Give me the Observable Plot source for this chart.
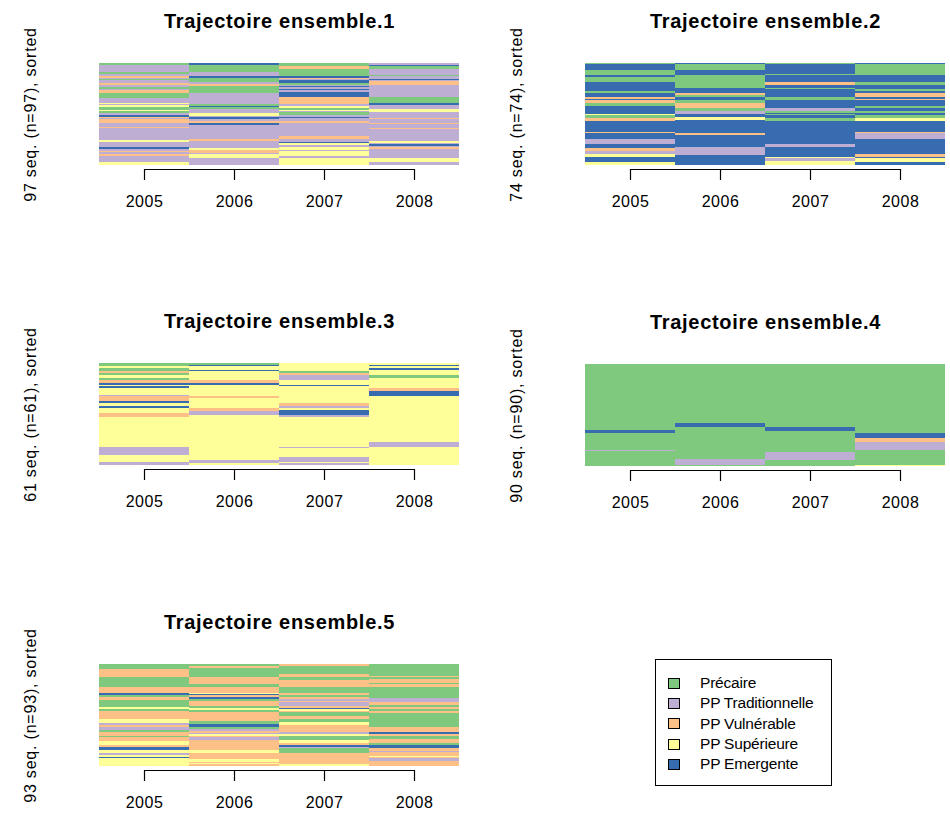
<!DOCTYPE html>
<html><head><meta charset="utf-8">
<script src="https://cdn.jsdelivr.net/npm/d3@7"></script>
<script src="https://cdn.jsdelivr.net/npm/@observablehq/plot@0.6"></script>
<style>
body{margin:0;background:#fff;font-family:"Liberation Sans",Arial,Helvetica,sans-serif;}
#wrap{position:relative;width:950px;height:813px;overflow:hidden;background:#fff;}
#legend{position:absolute;left:655px;top:659px;width:177px;height:127px;border:1px solid #000;box-sizing:border-box;padding-top:13px;}
.li{display:flex;align-items:center;height:20.3px;font-size:15.5px;color:#000;letter-spacing:-0.2px;}
.sw{width:10px;height:9px;border:1px solid #000;margin-left:12px;margin-right:20px;flex:none;}
</style></head>
<body><div id="wrap"></div>
<script>
// --- data ---------------------------------------------------------------
const years = [2005, 2006, 2007, 2008];
const stateCodes  = ["G", "T", "V", "S", "E"];
const stateLabels = ["Précaire", "PP Traditionnelle", "PP Vulnérable", "PP Supérieure", "PP Emergente"];
const stateColors = ["#7FC97F", "#BEAED4", "#FDC086", "#FFFF99", "#386CB0"];
const panelTitles = ["Trajectoire ensemble.1", "Trajectoire ensemble.2", "Trajectoire ensemble.3", "Trajectoire ensemble.4", "Trajectoire ensemble.5"];
const panelCounts = [97, 74, 61, 90, 93];

// run-length encoded states per year (top row first): code + number of sequences
const ens1 = [
  "G2 T7 G1 T2 V2 T1 G1 T3 V2 T2 G2 T1 V3 G4 T5 S1 T1 S2 G3 S1 G2 T1 E2 V1 T1 V4 T4 V1 T11 S2 T5 E2 T2 V1 T2 V1 T6 S3",
  "E2 G7 T3 E2 G4 T2 V2 G7 T10 G2 E1 G2 T4 S2 T1 E2 T2 V2 E2 T13 V2 T7 S2 V3 T1 S3 T7",
  "G3 V3 G6 E2 V1 T1 E3 G2 T1 E1 T2 E1 T2 E4 V7 T2 S2 G2 S1 T1 G2 T2 E1 T3 V2 T12 V3 T3 E1 S2 T2 S3 T1 S4 T2 S7",
  "T2 E1 G3 T5 G1 T3 E1 T1 V4 T11 G6 E2 T4 S3 T5 V1 T4 V1 T4 V1 T11 S2 T1 E2 T1 V2 T8 S4 T3"
];
const ens2 = [
  "G1 E4 G4 E1 G4 E6 G2 E3 V1 E1 V2 G2 E6 S1 G2 V2 E8 V1 E4 T4 E3 V2 T2 S2 E4 S2",
  "E1 G4 E4 G9 E4 V1 G2 E2 G2 V4 G2 T2 E2 S2 E10 V1 E9 T6 E7",
  "G1 E7 G1 E5 V2 E2 G1 E6 G2 E6 T2 G1 E1 G1 E2 G2 E17 T2 E7 S1 T2 S3",
  "E1 G8 E5 G2 E3 G1 E2 V3 E1 V1 E4 G2 E2 G1 E2 G2 S2 E8 V1 T4 E11 V2 E1 S3 E2"
];
const ens3 = [
  "G2 S1 G2 V1 G1 S2 G1 V2 E1 S1 E1 S4 T1 V3 E1 S2 E1 S3 V2 S18 T5 S4 T2",
  "G1 E1 S2 E1 S5 V2 E1 S7 V1 S6 V2 T2 S27 T2 S1",
  "S5 G1 V1 T3 S3 E1 S10 V2 T1 S1 E3 T1 S18 T1 S5 T3 S1 T1",
  "S1 E1 S1 E1 S3 G2 S6 V2 E3 S27 T3 S11"
];
const ens4 = [
  "G58 E3 G15 T1 G13",
  "G52 E4 G28 T5 G1",
  "G56 E3 G19 T7 G5",
  "G61 E4 V4 T7 G13 S1"
];
const ens5 = [
  "G5 V7 G9 V5 E2 G2 V3 G6 S2 G2 V7 S4 T2 V1 T3 G2 V4 G1 V3 S4 V2 E2 S3 T2 S2 E1 S7",
  "G2 V2 G8 V6 G3 V5 S1 E1 V2 E2 G2 V4 G2 S2 G2 V8 G3 E2 G2 T2 V2 T1 S2 V1 T2 V9 S3 V6 S2 V1 S1 V2",
  "V2 G7 V3 G3 V6 G5 V2 G2 V2 T2 V1 T3 V2 E1 S2 V1 G3 V3 G3 S3 V6 T2 S2 G3 S3 V2 E2 T1 G4 V10 S2",
  "G11 V1 G2 V3 G1 V3 G10 T4 V2 G2 V2 G2 V2 G12 V5 E2 V2 G2 V4 G2 E3 V2 T1 V4 S1 V1 T2 V5"
];
const ensembles = [ens1, ens2, ens3, ens4, ens5];

// --- drawing -------------------------------------------------------------
const wrap = document.getElementById("wrap");
const FONT = '"Liberation Sans", Arial, Helvetica, sans-serif';
const layout = [
  {left: 0,   top: 0,   width: 486},
  {left: 486, top: 0,   width: 464},
  {left: 0,   top: 300, width: 486},
  {left: 486, top: 301, width: 464},
  {left: 0,   top: 601, width: 486}
];

function runsOf(cols) {
  const runs = [];
  cols.forEach((col, j) => {
    let r = 0;
    col.trim().split(/\s+/).forEach(tok => {
      const k = +tok.slice(1);
      runs.push({year: years[j], start: r, end: r + k, state: stateLabels[stateCodes.indexOf(tok[0])]});
      r += k;
    });
  });
  return runs;
}

ensembles.forEach((cols, i) => {
  const n = panelCounts[i];
  const L = layout[i];
  const runs = runsOf(cols);
  const ylab = `${n} seq. (n=${n}), sorted`;
  const svg = Plot.plot({
    width: L.width, height: 230,
    marginLeft: 99, marginRight: L.width - 99 - 360, marginTop: 63, marginBottom: 230 - 63 - 102,
    style: {fontFamily: FONT, background: "transparent", color: "#000", overflow: "visible"},
    x: {domain: [years[0] - 0.5, years[years.length - 1] + 0.5]},
    y: {domain: [0, n], reverse: true, axis: null},
    color: {domain: stateLabels, range: stateColors},
    marks: [
      Plot.rect(runs, {x1: d => d.year - 0.5, x2: d => d.year + 0.5, y1: "start", y2: "end", fill: "state", shapeRendering: "crispEdges"}),
      Plot.ruleY([{y: n, a: years[0], b: years[years.length - 1]}], {y: "y", x1: "a", x2: "b", dy: 4, stroke: "#000", strokeWidth: 1.2}),
      Plot.axisX({ticks: years, tickFormat: d => String(d), tickSize: 11, tickPadding: 15, fontSize: 16, dy: 4, label: null, stroke: "#000", strokeWidth: 1.2}),
      Plot.text([panelTitles[i]], {text: d => d, frameAnchor: "top", lineAnchor: "middle", dy: -42, fontSize: 20, fontWeight: "bold"}),
      Plot.text([ylab], {text: d => d, frameAnchor: "left", textAnchor: "middle", lineAnchor: "middle", dx: -69, rotate: -90, fontSize: 16})
    ]
  });
  svg.style.position = "absolute";
  svg.style.left = L.left + "px";
  svg.style.top = L.top + "px";
  const texts = d3.select(svg).selectAll("text");
  texts.filter(function () { return this.textContent === panelTitles[i]; }).style("letter-spacing", "0.7px");
  texts.filter(function () { return this.textContent === ylab; }).style("letter-spacing", "0.8px");
  texts.filter(function () { return years.map(String).includes(this.textContent); }).style("letter-spacing", "0.5px");
  wrap.appendChild(svg);
});

// legend
const leg = document.createElement("div");
leg.id = "legend";
stateLabels.forEach((lab, k) => {
  const row = document.createElement("div");
  row.className = "li";
  const sw = document.createElement("span");
  sw.className = "sw";
  sw.style.background = stateColors[k];
  const t = document.createElement("span");
  t.textContent = lab;
  row.appendChild(sw); row.appendChild(t);
  leg.appendChild(row);
});
wrap.appendChild(leg);
</script>
</body></html>
